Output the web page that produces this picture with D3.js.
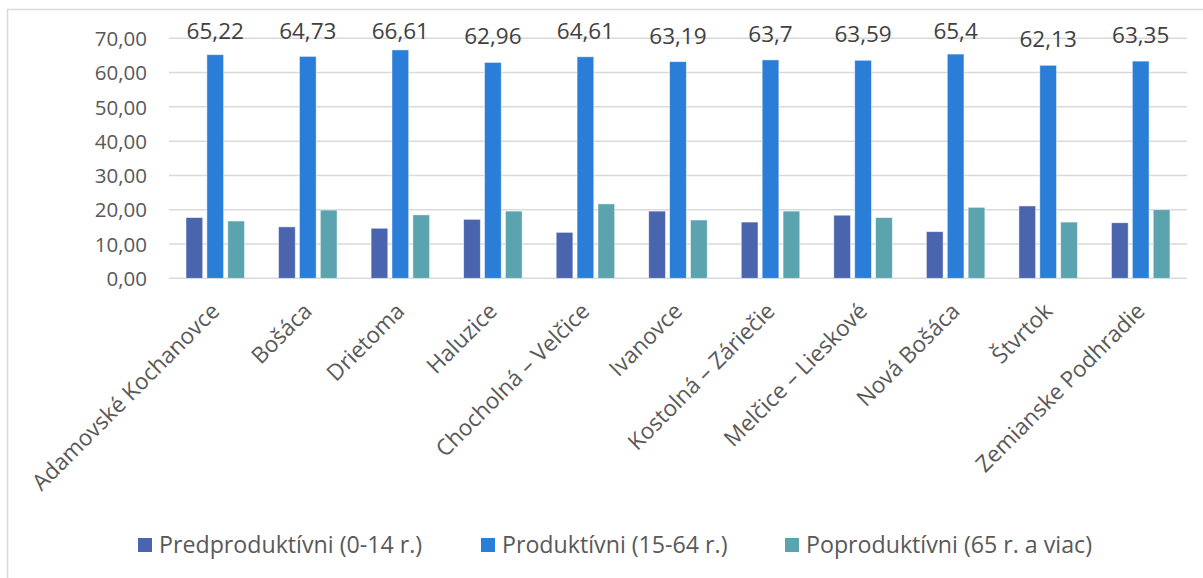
<!DOCTYPE html>
<meta charset="utf-8">
<style>
    body { margin: 0; background: #fff; }
    text { font-family: "Open Sans", sans-serif; }
    .grid line { stroke: #d9d9d9; stroke-width: 1.5; }
    .tick-y text { fill: #595959; font-size: 20.5px; }
    .cat text { fill: #595959; font-size: 22.5px; }
    .val { fill: #404040; font-size: 22.5px; }
    .leg text { fill: #595959; font-size: 23.2px; }
</style>
<svg width="1203" height="578"></svg>
<script src="https://d3js.org/d3.v7.min.js"></script>
<script>

    var obce = ["Adamovské Kochanovce", "Bošáca", "Drietoma", "Haluzice", "Chocholná – Velčice",
        "Ivanovce", "Kostolná – Záriečie", "Melčice – Lieskové", "Nová Bošáca", "Štvrtok", "Zemianske Podhradie"];
    var serie = ["Predproduktívni (0-14 r.)", "Produktívni (15-64 r.)", "Poproduktívni (65 r. a viac)"];
    var predprod = [17.7, 15.0, 14.6, 17.2, 13.4, 19.6, 16.4, 18.4, 13.6, 21.1, 16.2];
    var prod = [65.22, 64.73, 66.61, 62.96, 64.61, 63.19, 63.7, 63.59, 65.4, 62.13, 63.35];
    var poprod = [16.7, 19.9, 18.5, 19.6, 21.7, 17.0, 19.6, 17.7, 20.7, 16.4, 20.0];
    var yTicks = [0, 10, 20, 30, 40, 50, 60, 70];
    var farby = ["#4a65ad", "#2a7ed7", "#5ba3af"];

    var svg = d3.select("svg");

    // ramik okolo grafu
    svg.append("rect")
        .attr("x", 7.5).attr("y", 9.5)
        .attr("width", 1210).attr("height", 600)
        .attr("fill", "none").attr("stroke", "#d9d9d9").attr("stroke-width", 1.5);

    var plotL = 169, plotR = 1187, plotT = 38.3, plotB = 278.3;

    var x0 = d3.scaleBand().domain(obce).range([plotL, plotR]);
    var x1 = d3.scaleBand().domain(serie).range([17, 75.5]).paddingInner(0.2);
    var y = d3.scaleLinear().domain([0, 70]).range([plotB, plotT]);

    // mriezka
    svg.append("g").attr("class", "grid")
        .selectAll("line").data(yTicks).enter().append("line")
        .attr("x1", plotL).attr("x2", plotR)
        .attr("y1", function (d) { return y(d); })
        .attr("y2", function (d) { return y(d); });

    var yAxis = d3.axisLeft(y).tickValues(yTicks).tickSize(0).tickPadding(0)
        .tickFormat(function (d) { return d3.format(".2f")(d).replace(".", ","); });
    svg.append("g").attr("class", "tick-y")
        .attr("transform", "translate(147,0)")
        .call(yAxis)
        .call(function (g) { g.select(".domain").remove(); })
        .selectAll("text").attr("dy", "0.35em");

    var rows = obce.map(function (o, i) {
        return { obec: o, vals: [predprod[i], prod[i], poprod[i]] };
    });

    var grp = svg.selectAll(".grp").data(rows).enter().append("g")
        .attr("class", "grp")
        .attr("transform", function (d) { return "translate(" + x0(d.obec) + ",0)"; });

    grp.selectAll("rect").data(function (d) { return d.vals; }).enter().append("rect")
        .attr("x", function (d, i) { return x1(serie[i]); })
        .attr("width", x1.bandwidth())
        .attr("y", function (d) { return y(d); })
        .attr("height", function (d) { return plotB - y(d); })
        .attr("fill", function (d, i) { return farby[i]; })
        .attr("stroke", "#ffffff").attr("stroke-opacity", 0.6).attr("stroke-width", 0.8);

    // hodnoty nad produktivnymi
    grp.append("text").attr("class", "val")
        .attr("x", x1(serie[1]) + x1.bandwidth() / 2)
        .attr("y", function (d) { return Math.max(y(d.vals[1]) - 26, 31); })
        .attr("dy", "0.35em")
        .attr("text-anchor", "middle")
        .text(function (d) { return String(d.vals[1]).replace(".", ","); });

    // popisky osi x
    var xAxis = d3.axisBottom(x0).tickSize(0).tickPadding(0);
    var ax = svg.append("g").attr("class", "cat")
        .attr("transform", "translate(0,307)")
        .call(xAxis);
    ax.select(".domain").remove();
    ax.selectAll("text")
        .attr("y", 0).attr("dy", "0.35em")
        .attr("text-anchor", "end")
        .attr("transform", "rotate(-45)");

    // legenda
    var legX = [138, 481, 785];
    var leg = svg.append("g").attr("class", "leg")
        .selectAll("g").data(serie).enter().append("g")
        .attr("transform", function (d, i) { return "translate(" + legX[i] + ",538)"; });
    leg.append("rect").attr("width", 14).attr("height", 14)
        .attr("fill", function (d, i) { return farby[i]; });
    leg.append("text").attr("x", 21).attr("y", 7).attr("dy", "0.35em")
        .text(function (d) { return d; });

</script>
